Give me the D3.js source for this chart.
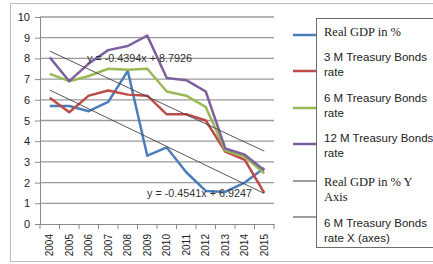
<!DOCTYPE html>
<html>
<head>
<meta charset="utf-8">
<script src="https://cdn.jsdelivr.net/npm/d3@7"></script>
<style>
  body { margin: 0; background: #fff; }
  svg { display: block; }
</style>
</head>
<body>
<div id="chart"></div>
<script>

// chart data
const years = ['2004', '2005', '2006', '2007', '2008', '2009', '2010', '2011', '2012', '2013', '2014', '2015'];
const realGdp = [5.7, 5.7, 5.45, 5.9, 7.4, 3.3, 3.7, 2.5, 1.6, 1.55, 2.0, 2.7];
const bonds3m = [6.1, 5.4, 6.2, 6.45, 6.25, 6.2, 5.3, 5.3, 5.0, 3.5, 3.1, 1.5];
const bonds6m = [7.25, 6.9, 7.15, 7.5, 7.45, 7.5, 6.4, 6.2, 5.65, 3.55, 3.25, 2.45];
const bonds12m = [8.05, 6.9, 7.75, 8.4, 8.6, 9.1, 7.05, 6.95, 6.4, 3.65, 3.35, 2.6];
const yTicks = [0, 1, 2, 3, 4, 5, 6, 7, 8, 9, 10];

// trend lines: slope, intercept (x = 1 for first year)
const trendUpper = [-0.4394, 8.7926];
const trendLower = [-0.4541, 6.9247];

const width = 433;
const height = 264;
const margin = {top: 17, right: 159, bottom: 40, left: 40};
const chartWidth = width - margin.left - margin.right;
const chartHeight = height - margin.top - margin.bottom;

const sansFont = 'Liberation Sans, Arial, sans-serif';
const serifFont = 'Liberation Serif, Times New Roman, serif';

const series = [
  {name: ['Real GDP in %'], values: realGdp, color: '#4a7ebb', serif: true},
  {name: ['3 M Treasury Bonds', 'rate'], values: bonds3m, color: '#be4b48', serif: false},
  {name: ['6 M Treasury Bonds', 'rate'], values: bonds6m, color: '#98b954', serif: false},
  {name: ['12 M Treasury Bonds', 'rate'], values: bonds12m, color: '#7d60a0', serif: false}
];

const svg = d3.select('#chart').append('svg')
  .attr('width', width)
  .attr('height', height);

// outer chart frame
svg.append('rect')
  .attr('x', 10.5).attr('y', 3.5)
  .attr('width', 440).attr('height', 258)
  .attr('fill', 'none')
  .attr('stroke', '#bdbdbd');

const g = svg.append('g')
  .attr('transform', `translate(${margin.left},${margin.top})`);

const x = d3.scaleBand().domain(years).range([0, chartWidth]);
const y = d3.scaleLinear().domain([0, 10]).range([chartHeight, 0]);

// gridlines
g.append('g').selectAll('line')
  .data(yTicks.filter(d => d > 0))
  .join('line')
  .attr('x1', 0).attr('x2', chartWidth)
  .attr('y1', d => y(d)).attr('y2', d => y(d))
  .attr('stroke', '#9a9a9a')
  .attr('stroke-width', 1.3);

// y axis
const yAxis = g.append('g')
  .call(d3.axisLeft(y).tickValues(yTicks).tickSize(5).tickPadding(5));
yAxis.select('.domain').attr('stroke', '#8a8a8a');
yAxis.selectAll('.tick line').attr('stroke', '#8a8a8a');
yAxis.selectAll('text')
  .attr('font-family', sansFont)
  .attr('font-size', 11)
  .attr('fill', '#222');

// x axis, ticks between categories like Excel
const xAxis = g.append('g')
  .attr('transform', `translate(0,${chartHeight})`)
  .call(d3.axisBottom(x).tickSize(0));
xAxis.select('.domain').attr('stroke', '#8a8a8a');
xAxis.selectAll('text')
  .attr('font-family', sansFont)
  .attr('font-size', 10)
  .attr('fill', '#222')
  .attr('text-anchor', 'end')
  .attr('transform', 'rotate(-90)')
  .attr('x', -10)
  .attr('y', 0)
  .attr('dy', '0.35em');

g.append('g').selectAll('line')
  .data(d3.range(years.length + 1))
  .join('line')
  .attr('x1', i => i * x.bandwidth()).attr('x2', i => i * x.bandwidth())
  .attr('y1', chartHeight).attr('y2', chartHeight + 5)
  .attr('stroke', '#8a8a8a');

const line = d3.line()
  .x((d, i) => x(years[i]) + x.bandwidth() / 2)
  .y(d => y(d));

// data series
g.append('g').selectAll('path')
  .data(series)
  .join('path')
  .attr('d', d => line(d.values))
  .attr('fill', 'none')
  .attr('stroke', d => d.color)
  .attr('stroke-width', 2.5)
  .attr('stroke-linejoin', 'round');

// trend lines, from first to last year
const trendLine = d3.line()
  .x(d => x(years[d - 1]) + x.bandwidth() / 2);

g.append('g').selectAll('path')
  .data([trendUpper, trendLower])
  .join('path')
  .attr('d', coef => trendLine.y(d => y(coef[0] * d + coef[1]))([1, years.length]))
  .attr('fill', 'none')
  .attr('stroke', '#444')
  .attr('stroke-width', 0.9);

// trend equations
g.append('text')
  .attr('x', 47).attr('y', 45)
  .attr('font-family', sansFont).attr('font-size', 10.8).attr('fill', '#333')
  .text('y = -0.4394x + 8.7926');
g.append('text')
  .attr('x', 107).attr('y', 180)
  .attr('font-family', sansFont).attr('font-size', 10.8).attr('fill', '#333')
  .text('y = -0.4541x + 6.9247');

// legend
const legend = svg.append('g');
legend.append('rect')
  .attr('x', 316.5).attr('y', 18.5)
  .attr('width', 130).attr('height', 229)
  .attr('fill', '#fff')
  .attr('stroke', '#6e6e6e');

const legendItems = series.concat([
  {name: ['Real GDP in % Y', 'Axis'], color: '#666', serif: true, thin: true},
  {name: ['6 M Treasury Bonds', 'rate X (axes)'], color: '#666', serif: false, thin: true}
]);
const legendTextY = [32, 57, 98, 138, 182, 223];
const legendLineY = [35, 71, 108, 144, 181, 217];

legendItems.forEach((item, i) => {
  legend.append('line')
    .attr('x1', 293).attr('x2', 316)
    .attr('y1', legendLineY[i]).attr('y2', legendLineY[i])
    .attr('stroke', item.color)
    .attr('stroke-width', item.thin ? 1.3 : 2.5);
  const text = legend.append('text')
    .attr('x', 324)
    .attr('font-family', item.serif ? serifFont : sansFont)
    .attr('font-size', item.serif ? 12.5 : 11.5)
    .attr('fill', '#222');
  item.name.forEach((part, j) => {
    text.append('tspan')
      .attr('x', 324)
      .attr('y', legendTextY[i] + j * 14.5)
      .attr('dy', '0.35em')
      .text(part);
  });
});

</script>
</body>
</html>
